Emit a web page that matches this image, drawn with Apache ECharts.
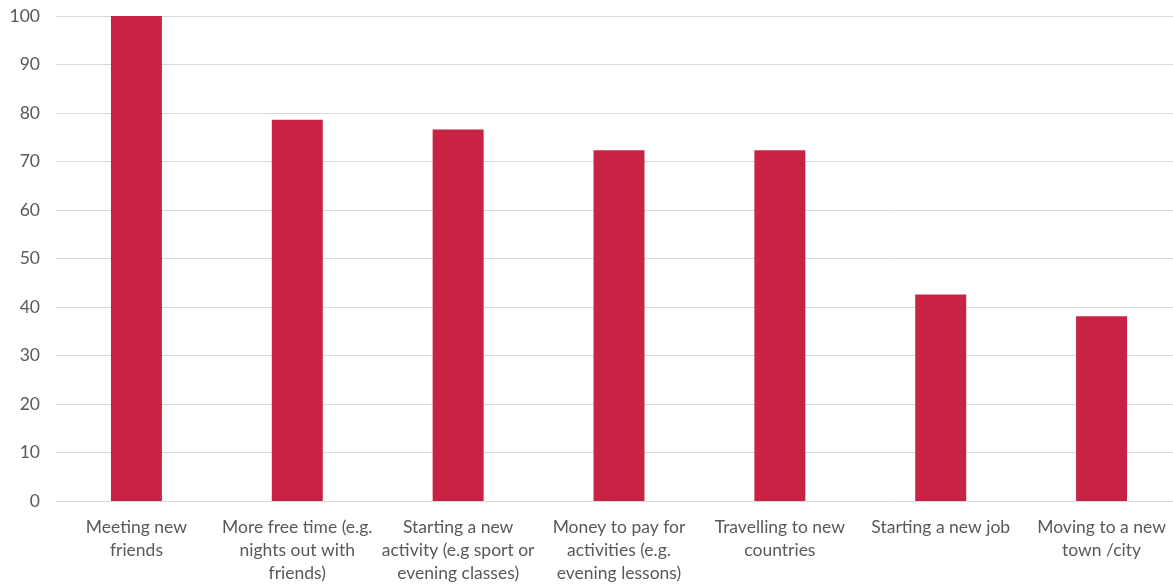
<!DOCTYPE html>
<html>
<head>
<meta charset="utf-8">
<script src="https://cdn.jsdelivr.net/npm/echarts@6/dist/echarts.min.js"></script>
<style>
  html, body { margin: 0; padding: 0; background: #fff; overflow: hidden; }
  #chart { width: 1173px; height: 586px; }
</style>
</head>
<body>
<div id="chart"></div>
<script>
// Categories (line breaks as shown under the axis)
const categories = [
  'Meeting new\nfriends',
  'More free time (e.g.\nnights out with\nfriends)',
  'Starting a new\nactivity (e.g sport or\nevening classes)',
  'Money to pay for\nactivities (e.g.\nevening lessons)',
  'Travelling to new\ncountries',
  'Starting a new job',
  'Moving to a new\ntown /city'
];
const values = [100, 78.6, 76.6, 72.3, 72.3, 42.6, 38.1];
const yMin = 0;
const yMax = 100;
const yStep = 10;

const chart = echarts.init(document.getElementById('chart'), null, { renderer: 'canvas' });
const textStyle = { color: '#595959', fontFamily: 'Lato, "Open Sans", sans-serif', fontSize: 17.5 };

chart.setOption({
  animation: false,
  // the plot runs slightly past the right edge of the canvas
  grid: { left: 56, width: 1126, top: 16, bottom: 85, containLabel: false, outerBoundsMode: 'none' },
  xAxis: {
    type: 'category',
    data: categories,
    axisLine: { show: true, lineStyle: { color: '#D9D9D9', width: 1 } },
    axisTick: { show: false },
    axisLabel: { ...textStyle, interval: 0, margin: 15, lineHeight: 23 }
  },
  yAxis: {
    type: 'value',
    min: yMin,
    max: yMax,
    interval: yStep,
    axisLine: { show: false },
    axisTick: { show: false },
    splitLine: { lineStyle: { color: '#D9D9D9', width: 1 } },
    axisLabel: { ...textStyle, margin: 16 }
  },
  series: [{
    type: 'bar',
    data: values,
    barWidth: '31.7%',
    itemStyle: { color: '#C82345' }
  }]
});
</script>
</body>
</html>
